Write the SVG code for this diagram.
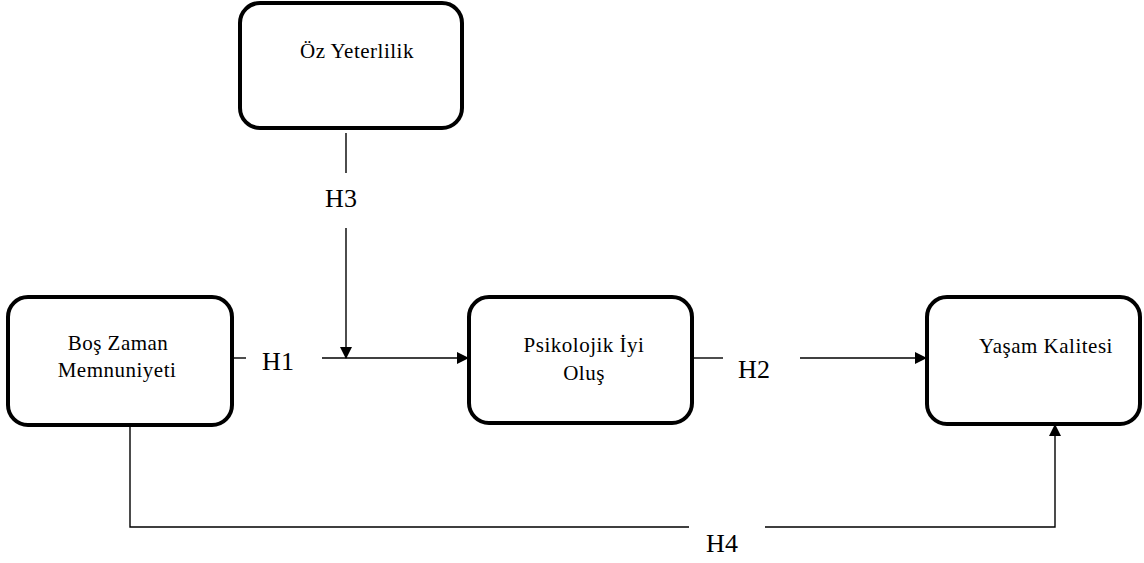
<svg xmlns="http://www.w3.org/2000/svg" width="1144" height="563" viewBox="0 0 1144 563">
<style>
.box{fill:#fff;stroke:#000;stroke-width:4}
.t{font-family:"Liberation Serif","Times New Roman",serif;font-size:21px;letter-spacing:0.5px;fill:#000;text-anchor:middle}
.h{font-family:"Liberation Serif","Times New Roman",serif;font-size:26px;fill:#000;text-anchor:middle}
.ln{fill:none;stroke:#000;stroke-width:1.4}
</style>
<defs>
<marker id="arr" markerWidth="12" markerHeight="12" refX="11" refY="6" orient="auto" markerUnits="userSpaceOnUse">
<path d="M0,0 L12,6 L0,12 Z" fill="#000"/>
</marker>
</defs>
<rect width="1144" height="563" fill="#fff"/>
<g id="connectors">
<line class="ln" x1="346" y1="133" x2="346" y2="173"/>
<line class="ln" x1="346" y1="228" x2="346" y2="358" marker-end="url(#arr)"/>
<line class="ln" x1="232" y1="358" x2="246" y2="358"/>
<line class="ln" x1="322" y1="358" x2="468" y2="358" marker-end="url(#arr)"/>
<line class="ln" x1="693" y1="358" x2="723" y2="358"/>
<line class="ln" x1="800" y1="358" x2="926" y2="358" marker-end="url(#arr)"/>
<polyline class="ln" points="130,425 130,527 689,527"/>
<polyline class="ln" points="765,527 1055,527 1055,425" marker-end="url(#arr)"/>
<text class="h" x="278" y="370">H1</text>
<text class="h" x="754" y="378">H2</text>
<text class="h" x="341" y="207">H3</text>
<text class="h" x="722" y="552">H4</text>
</g>
<g id="oz-yeterlilik">
<rect class="box" x="240" y="3" width="222" height="125" rx="20"/>
<text class="t" x="357" y="58">Öz Yeterlilik</text>
</g>
<g id="bos-zaman">
<rect class="box" x="8" y="297" width="224" height="128" rx="20"/>
<text class="t" x="118" y="350">Boş Zaman</text>
<text class="t" x="117" y="377">Memnuniyeti</text>
</g>
<g id="psikolojik">
<rect class="box" x="469" y="297" width="223" height="126" rx="20"/>
<text class="t" x="584" y="352">Psikolojik İyi</text>
<text class="t" x="584" y="380">Oluş</text>
</g>
<g id="yasam-kalitesi">
<rect class="box" x="927" y="297" width="213" height="127" rx="20"/>
<text class="t" x="1046" y="353">Yaşam Kalitesi</text>
</g>
</svg>
